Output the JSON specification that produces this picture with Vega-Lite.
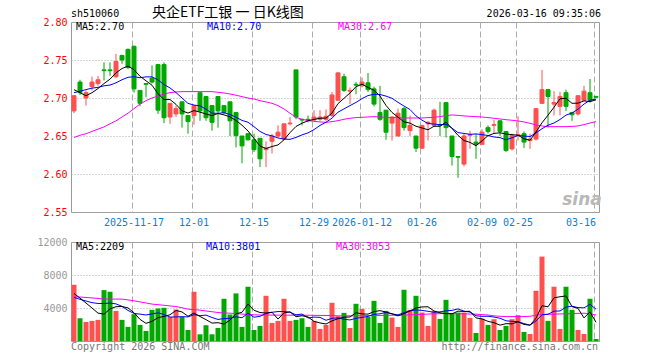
{
"$schema": "https://vega.github.io/schema/vega-lite/v6.json",
"background": "white",
"padding": {"left": 36, "top": 5, "right": 5, "bottom": 5},
"bounds": "flush",
"spacing": 30,
"config": {
 "font": "DejaVu Sans Mono",
 "view": {"stroke": "#999999", "strokeWidth": 1},
 "axis": {"labelFont": "DejaVu Sans Mono", "labelFontSize": 10, "ticks": false, "tickSize": 0, "domain": false, "gridColor": "#aaaaaa", "gridWidth": 1, "labelOverlap": false}
},
"datasets": {
"k": [
{"d":"2025-11-03","o":2.683,"h":2.704,"l":2.680,"c":2.703,"v":6820,"m5":2.711,"m10":2.707,"m30":2.648,"vm5":5760,"vm10":5280,"vm30":5360},
{"d":"2025-11-04","o":2.721,"h":2.724,"l":2.704,"c":2.707,"v":2760,"m5":2.707,"m10":2.709,"m30":2.651,"vm5":5200,"vm10":5050,"vm30":5330},
{"d":"2025-11-05","o":2.700,"h":2.710,"l":2.690,"c":2.707,"v":2310,"m5":2.703,"m10":2.711,"m30":2.653,"vm5":4600,"vm10":4850,"vm30":5280},
{"d":"2025-11-06","o":2.715,"h":2.728,"l":2.710,"c":2.721,"v":2440,"m5":2.707,"m10":2.713,"m30":2.656,"vm5":4000,"vm10":4650,"vm30":5220},
{"d":"2025-11-07","o":2.719,"h":2.729,"l":2.716,"c":2.724,"v":2560,"m5":2.7124,"m10":2.714,"m30":2.659,"vm5":3380,"vm10":4550,"vm30":5160},
{"d":"2025-11-10","o":2.737,"h":2.747,"l":2.723,"c":2.736,"v":6170,"m5":2.719,"m10":2.716,"m30":2.662,"vm5":3250,"vm10":4550,"vm30":5080},
{"d":"2025-11-11","o":2.737,"h":2.747,"l":2.729,"c":2.736,"v":5970,"m5":2.7248,"m10":2.717,"m30":2.666,"vm5":3890,"vm10":4600,"vm30":5080},
{"d":"2025-11-12","o":2.728,"h":2.758,"l":2.726,"c":2.748,"v":3650,"m5":2.733,"m10":2.720,"m30":2.670,"vm5":4160,"vm10":4500,"vm30":5080},
{"d":"2025-11-13","o":2.756,"h":2.757,"l":2.745,"c":2.750,"v":2560,"m5":2.7388,"m10":2.724,"m30":2.675,"vm5":4180,"vm10":4200,"vm30":5080},
{"d":"2025-11-14","o":2.764,"h":2.765,"l":2.738,"c":2.740,"v":1710,"m5":2.742,"m10":2.7272,"m30":2.680,"vm5":4010,"vm10":3700,"vm30":4980},
{"d":"2025-11-17","o":2.768,"h":2.769,"l":2.707,"c":2.712,"v":3250,"m5":2.7372,"m10":2.7281,"m30":2.686,"vm5":3430,"vm10":3340,"vm30":4870},
{"d":"2025-11-18","o":2.710,"h":2.710,"l":2.689,"c":2.693,"v":1950,"m5":2.7286,"m10":2.7267,"m30":2.692,"vm5":2620,"vm10":3260,"vm30":4740},
{"d":"2025-11-19","o":2.719,"h":2.719,"l":2.701,"c":2.718,"v":1220,"m5":2.7226,"m10":2.7278,"m30":2.6965,"vm5":2140,"vm10":3150,"vm30":4610},
{"d":"2025-11-20","o":2.726,"h":2.743,"l":2.719,"c":2.721,"v":3780,"m5":2.7168,"m10":2.7278,"m30":2.700,"vm5":2380,"vm10":3280,"vm30":4470},
{"d":"2025-11-21","o":2.744,"h":2.744,"l":2.679,"c":2.684,"v":3940,"m5":2.7056,"m10":2.7238,"m30":2.7027,"vm5":2830,"vm10":3420,"vm30":4400},
{"d":"2025-11-24","o":2.744,"h":2.747,"l":2.667,"c":2.674,"v":4020,"m5":2.698,"m10":2.7176,"m30":2.7053,"vm5":2980,"vm10":3210,"vm30":4330},
{"d":"2025-11-25","o":2.675,"h":2.693,"l":2.666,"c":2.693,"v":2920,"m5":2.698,"m10":2.7133,"m30":2.7071,"vm5":3180,"vm10":2900,"vm30":4250},
{"d":"2025-11-26","o":2.679,"h":2.690,"l":2.675,"c":2.686,"v":3820,"m5":2.6916,"m10":2.7071,"m30":2.7079,"vm5":3700,"vm10":2920,"vm30":4180},
{"d":"2025-11-27","o":2.695,"h":2.695,"l":2.661,"c":2.679,"v":2920,"m5":2.6832,"m10":2.700,"m30":2.7084,"vm5":3520,"vm10":2950,"vm30":4030},
{"d":"2025-11-28","o":2.677,"h":2.677,"l":2.653,"c":2.669,"v":1340,"m5":2.6802,"m10":2.6929,"m30":2.7084,"vm5":3000,"vm10":2920,"vm30":3860},
{"d":"2025-12-01","o":2.677,"h":2.690,"l":2.665,"c":2.690,"v":5970,"m5":2.6834,"m10":2.6907,"m30":2.7084,"vm5":3390,"vm10":3190,"vm30":3800},
{"d":"2025-12-02","o":2.707,"h":2.707,"l":2.670,"c":2.683,"v":810,"m5":2.6814,"m10":2.6897,"m30":2.7084,"vm5":2970,"vm10":3070,"vm30":3740},
{"d":"2025-12-03","o":2.702,"h":2.702,"l":2.670,"c":2.674,"v":1910,"m5":2.679,"m10":2.6853,"m30":2.7084,"vm5":2590,"vm10":3140,"vm30":3640},
{"d":"2025-12-04","o":2.690,"h":2.690,"l":2.657,"c":2.668,"v":810,"m5":2.6768,"m10":2.680,"m30":2.7084,"vm5":2170,"vm10":2850,"vm30":3550},
{"d":"2025-12-05","o":2.702,"h":2.702,"l":2.661,"c":2.683,"v":1580,"m5":2.6796,"m10":2.6799,"m30":2.7075,"vm5":2220,"vm10":2610,"vm30":3450},
{"d":"2025-12-08","o":2.690,"h":2.690,"l":2.679,"c":2.681,"v":5120,"m5":2.6778,"m10":2.6806,"m30":2.7066,"vm5":2050,"vm10":2720,"vm30":3400},
{"d":"2025-12-09","o":2.695,"h":2.695,"l":2.650,"c":2.670,"v":3210,"m5":2.6752,"m10":2.6783,"m30":2.7053,"vm5":2530,"vm10":2750,"vm30":3370},
{"d":"2025-12-10","o":2.681,"h":2.681,"l":2.635,"c":2.6505,"v":5770,"m5":2.6704,"m10":2.6747,"m30":2.7036,"vm5":3300,"vm10":2940,"vm30":3330},
{"d":"2025-12-11","o":2.650,"h":2.650,"l":2.614,"c":2.637,"v":1710,"m5":2.6642,"m10":2.6705,"m30":2.7018,"vm5":3480,"vm10":2820,"vm30":3260},
{"d":"2025-12-12","o":2.653,"h":2.653,"l":2.644,"c":2.645,"v":6580,"m5":2.6566,"m10":2.6681,"m30":2.700,"vm5":4480,"vm10":3350,"vm30":3220},
{"d":"2025-12-15","o":2.645,"h":2.653,"l":2.629,"c":2.632,"v":1340,"m5":2.6468,"m10":2.6623,"m30":2.6987,"vm5":3720,"vm10":2880,"vm30":3170},
{"d":"2025-12-16","o":2.647,"h":2.647,"l":2.609,"c":2.620,"v":1830,"m5":2.6368,"m10":2.656,"m30":2.6965,"vm5":3450,"vm10":2990,"vm30":3150},
{"d":"2025-12-17","o":2.632,"h":2.643,"l":2.609,"c":2.634,"v":5480,"m5":2.6336,"m10":2.652,"m30":2.6948,"vm5":3390,"vm10":3340,"vm30":3150},
{"d":"2025-12-18","o":2.643,"h":2.653,"l":2.627,"c":2.650,"v":2190,"m5":2.6362,"m10":2.6502,"m30":2.693,"vm5":3480,"vm10":3480,"vm30":3140},
{"d":"2025-12-19","o":2.650,"h":2.664,"l":2.648,"c":2.655,"v":2440,"m5":2.6382,"m10":2.6474,"m30":2.690,"vm5":2660,"vm10":3570,"vm30":3140},
{"d":"2025-12-22","o":2.646,"h":2.666,"l":2.645,"c":2.666,"v":5120,"m5":2.645,"m10":2.6459,"m30":2.6856,"vm5":3410,"vm10":3570,"vm30":3130},
{"d":"2025-12-23","o":2.666,"h":2.675,"l":2.664,"c":2.667,"v":2440,"m5":2.6544,"m10":2.6456,"m30":2.680,"vm5":3530,"vm10":3490,"vm30":3130},
{"d":"2025-12-24","o":2.737,"h":2.737,"l":2.672,"c":2.675,"v":2560,"m5":2.6626,"m10":2.6481,"m30":2.6746,"vm5":2950,"vm10":3170,"vm30":3130},
{"d":"2025-12-25","o":2.672,"h":2.672,"l":2.664,"c":2.671,"v":2760,"m5":2.6668,"m10":2.6515,"m30":2.672,"vm5":3060,"vm10":3270,"vm30":3130},
{"d":"2025-12-26","o":2.672,"h":2.677,"l":2.668,"c":2.671,"v":1710,"m5":2.670,"m10":2.6541,"m30":2.6702,"vm5":2920,"vm10":2790,"vm30":3120},
{"d":"2025-12-29","o":2.671,"h":2.684,"l":2.670,"c":2.675,"v":2440,"m5":2.6718,"m10":2.6584,"m30":2.6693,"vm5":2380,"vm10":2900,"vm30":3110},
{"d":"2025-12-30","o":2.672,"h":2.684,"l":2.670,"c":2.675,"v":1460,"m5":2.6734,"m10":2.6639,"m30":2.6685,"vm5":2190,"vm10":2860,"vm30":3100},
{"d":"2025-12-31","o":2.672,"h":2.685,"l":2.670,"c":2.676,"v":1950,"m5":2.6736,"m10":2.6681,"m30":2.668,"vm5":2060,"vm10":2510,"vm30":3090},
{"d":"2026-01-05","o":2.677,"h":2.708,"l":2.675,"c":2.704,"v":4630,"m5":2.6802,"m10":2.6735,"m30":2.6689,"vm5":2440,"vm10":2750,"vm30":3080},
{"d":"2026-01-06","o":2.697,"h":2.734,"l":2.697,"c":2.733,"v":3000,"m5":2.6926,"m10":2.6813,"m30":2.6702,"vm5":2700,"vm10":2810,"vm30":3050},
{"d":"2026-01-07","o":2.728,"h":2.732,"l":2.708,"c":2.710,"v":3410,"m5":2.6996,"m10":2.6857,"m30":2.672,"vm5":2890,"vm10":2640,"vm30":3050},
{"d":"2026-01-08","o":2.709,"h":2.714,"l":2.692,"c":2.710,"v":1580,"m5":2.7066,"m10":2.690,"m30":2.6733,"vm5":2910,"vm10":2550,"vm30":3050},
{"d":"2026-01-09","o":2.718,"h":2.721,"l":2.705,"c":2.717,"v":4510,"m5":2.7148,"m10":2.6942,"m30":2.6742,"vm5":3430,"vm10":2750,"vm30":3060},
{"d":"2026-01-12","o":2.716,"h":2.727,"l":2.714,"c":2.721,"v":3900,"m5":2.7182,"m10":2.6992,"m30":2.6746,"vm5":3280,"vm10":2860,"vm30":3070},
{"d":"2026-01-13","o":2.720,"h":2.733,"l":2.708,"c":2.711,"v":2920,"m5":2.7138,"m10":2.7032,"m30":2.675,"vm5":3260,"vm10":2980,"vm30":3080},
{"d":"2026-01-14","o":2.712,"h":2.715,"l":2.689,"c":2.692,"v":4870,"m5":2.7102,"m10":2.7049,"m30":2.6755,"vm5":3560,"vm10":3220,"vm30":3090},
{"d":"2026-01-15","o":2.681,"h":2.716,"l":2.670,"c":2.672,"v":2190,"m5":2.7026,"m10":2.7046,"m30":2.675,"vm5":3680,"vm10":3300,"vm30":3100},
{"d":"2026-01-16","o":2.684,"h":2.684,"l":2.645,"c":2.655,"v":3650,"m5":2.6902,"m10":2.7025,"m30":2.6746,"vm5":3510,"vm10":3470,"vm30":3110},
{"d":"2026-01-19","o":2.667,"h":2.676,"l":2.644,"c":2.675,"v":2840,"m5":2.681,"m10":2.6996,"m30":2.6742,"vm5":3290,"vm10":3290,"vm30":3120},
{"d":"2026-01-20","o":2.650,"h":2.686,"l":2.650,"c":2.680,"v":1710,"m5":2.6748,"m10":2.6943,"m30":2.6742,"vm5":3050,"vm10":3160,"vm30":3130},
{"d":"2026-01-21","o":2.686,"h":2.688,"l":2.657,"c":2.661,"v":6210,"m5":2.6686,"m10":2.6894,"m30":2.6737,"vm5":3320,"vm10":3440,"vm30":3140},
{"d":"2026-01-22","o":2.657,"h":2.677,"l":2.650,"c":2.664,"v":3780,"m5":2.667,"m10":2.6848,"m30":2.6737,"vm5":3640,"vm10":3660,"vm30":3170},
{"d":"2026-01-23","o":2.650,"h":2.650,"l":2.629,"c":2.634,"v":5480,"m5":2.6628,"m10":2.6765,"m30":2.6737,"vm5":4000,"vm10":3760,"vm30":3200},
{"d":"2026-01-26","o":2.634,"h":2.664,"l":2.633,"c":2.664,"v":3450,"m5":2.6606,"m10":2.6708,"m30":2.6737,"vm5":4130,"vm10":3710,"vm30":3230},
{"d":"2026-01-27","o":2.666,"h":2.670,"l":2.644,"c":2.668,"v":1830,"m5":2.6582,"m10":2.6665,"m30":2.6742,"vm5":4150,"vm10":3600,"vm30":3260},
{"d":"2026-01-28","o":2.664,"h":2.686,"l":2.662,"c":2.684,"v":3650,"m5":2.6628,"m10":2.6657,"m30":2.6746,"vm5":3640,"vm10":3480,"vm30":3290},
{"d":"2026-01-29","o":2.665,"h":2.695,"l":2.650,"c":2.664,"v":2680,"m5":2.6628,"m10":2.6649,"m30":2.6755,"vm5":3420,"vm10":3530,"vm30":3310},
{"d":"2026-01-30","o":2.694,"h":2.694,"l":2.648,"c":2.661,"v":4990,"m5":2.6682,"m10":2.6655,"m30":2.6768,"vm5":3320,"vm10":3660,"vm30":3330},
{"d":"2026-02-02","o":2.650,"h":2.650,"l":2.611,"c":2.623,"v":3330,"m5":2.660,"m10":2.6603,"m30":2.6777,"vm5":3300,"vm10":3710,"vm30":3320},
{"d":"2026-02-03","o":2.623,"h":2.623,"l":2.595,"c":2.622,"v":3450,"m5":2.6508,"m10":2.6545,"m30":2.6772,"vm5":3620,"vm10":3890,"vm30":3310},
{"d":"2026-02-04","o":2.613,"h":2.653,"l":2.610,"c":2.650,"v":3450,"m5":2.644,"m10":2.6534,"m30":2.6764,"vm5":3580,"vm10":3610,"vm30":3290},
{"d":"2026-02-05","o":2.651,"h":2.657,"l":2.633,"c":2.652,"v":2800,"m5":2.6416,"m10":2.6522,"m30":2.6759,"vm5":3600,"vm10":3510,"vm30":3270},
{"d":"2026-02-06","o":2.642,"h":2.653,"l":2.620,"c":2.639,"v":970,"m5":2.6372,"m10":2.6527,"m30":2.6755,"vm5":2800,"vm10":3060,"vm30":3250},
{"d":"2026-02-09","o":2.639,"h":2.659,"l":2.639,"c":2.655,"v":2720,"m5":2.6436,"m10":2.6518,"m30":2.675,"vm5":2680,"vm10":2990,"vm30":3200},
{"d":"2026-02-10","o":2.661,"h":2.664,"l":2.653,"c":2.656,"v":1950,"m5":2.6504,"m10":2.6506,"m30":2.6742,"vm5":2380,"vm10":3000,"vm30":3150},
{"d":"2026-02-11","o":2.664,"h":2.671,"l":2.653,"c":2.665,"v":2640,"m5":2.6534,"m10":2.6487,"m30":2.6733,"vm5":2220,"vm10":2900,"vm30":3050},
{"d":"2026-02-12","o":2.670,"h":2.671,"l":2.650,"c":2.656,"v":1340,"m5":2.6542,"m10":2.6479,"m30":2.6724,"vm5":1920,"vm10":2760,"vm30":3000},
{"d":"2026-02-13","o":2.656,"h":2.656,"l":2.629,"c":2.631,"v":1830,"m5":2.6526,"m10":2.6449,"m30":2.6715,"vm5":2100,"vm10":2450,"vm30":2960},
{"d":"2026-02-24","o":2.633,"h":2.653,"l":2.631,"c":2.651,"v":2640,"m5":2.6518,"m10":2.6477,"m30":2.6707,"vm5":2080,"vm10":2380,"vm30":2960},
{"d":"2026-02-25","o":2.651,"h":2.676,"l":2.644,"c":2.652,"v":3130,"m5":2.651,"m10":2.6507,"m30":2.6698,"vm5":2320,"vm10":2350,"vm30":2960},
{"d":"2026-02-26","o":2.653,"h":2.656,"l":2.634,"c":2.642,"v":1100,"m5":2.6464,"m10":2.6499,"m30":2.6685,"vm5":2010,"vm10":2110,"vm30":2960},
{"d":"2026-02-27","o":2.644,"h":2.653,"l":2.633,"c":2.646,"v":850,"m5":2.6444,"m10":2.6493,"m30":2.6667,"vm5":1910,"vm10":1920,"vm30":3000},
{"d":"2026-03-02","o":2.646,"h":2.686,"l":2.644,"c":2.686,"v":6090,"m5":2.6554,"m10":2.654,"m30":2.6645,"vm5":2760,"vm10":2430,"vm30":3130},
{"d":"2026-03-03","o":2.693,"h":2.737,"l":2.692,"c":2.711,"v":10230,"m5":2.6674,"m10":2.6596,"m30":2.6632,"vm5":4280,"vm10":3180,"vm30":3200},
{"d":"2026-03-04","o":2.711,"h":2.711,"l":2.661,"c":2.702,"v":2440,"m5":2.6774,"m10":2.6642,"m30":2.6623,"vm5":4140,"vm10":3230,"vm30":3250},
{"d":"2026-03-05","o":2.692,"h":2.709,"l":2.677,"c":2.694,"v":6580,"m5":2.6878,"m10":2.6671,"m30":2.6623,"vm5":5240,"vm10":3620,"vm30":3250},
{"d":"2026-03-06","o":2.689,"h":2.708,"l":2.677,"c":2.702,"v":1460,"m5":2.699,"m10":2.6717,"m30":2.6623,"vm5":5360,"vm10":3640,"vm30":3280},
{"d":"2026-03-09","o":2.707,"h":2.711,"l":2.683,"c":2.689,"v":6580,"m5":2.6996,"m10":2.6775,"m30":2.6623,"vm5":5460,"vm10":4110,"vm30":3300},
{"d":"2026-03-10","o":2.681,"h":2.681,"l":2.670,"c":2.678,"v":3780,"m5":2.693,"m10":2.6802,"m30":2.6627,"vm5":4170,"vm10":4220,"vm30":3330},
{"d":"2026-03-11","o":2.679,"h":2.703,"l":2.677,"c":2.703,"v":1340,"m5":2.6932,"m10":2.6853,"m30":2.6632,"vm5":3950,"vm10":4050,"vm30":3350},
{"d":"2026-03-12","o":2.697,"h":2.716,"l":2.697,"c":2.709,"v":850,"m5":2.6962,"m10":2.692,"m30":2.665,"vm5":2800,"vm10":4020,"vm30":3370},
{"d":"2026-03-13","o":2.707,"h":2.725,"l":2.694,"c":2.697,"v":5120,"m5":2.6952,"m10":2.6971,"m30":2.6671,"vm5":3530,"vm10":4450,"vm30":3300},
{"d":"2026-03-16","o":2.702,"h":2.703,"l":2.700,"c":2.701,"v":240,"m5":2.6976,"m10":2.6986,"m30":2.6689,"vm5":2270,"vm10":3860,"vm30":3150}
]
},
"vconcat": [
{
 "width": 528,
 "height": 190,
 "layer": [
  {
   "data": {"name": "k"},
   "mark": {"type": "rule", "strokeWidth": 1},
   "encoding": {
    "x": {"field": "d", "type": "ordinal", "scale": {"type": "band", "paddingInner": 0, "paddingOuter": 0},
     "axis": {"title": null, "values": ["2025-11-17","2025-12-01","2025-12-15","2025-12-29","2026-01-12","2026-01-26","2026-02-09","2026-02-25","2026-03-16"],
      "labelExpr": "datum.value == '2025-11-17' || datum.value == '2026-01-12' ? datum.value : slice(datum.value, 5)",
      "labelAngle": 0, "labelColor": "#0a80d8", "labelPadding": 5, "labelOverlap": false, "bandPosition": 0.2,
      "labelAlign": {"condition": {"test": "datum.value == '2026-03-16'", "value": "right"}, "value": "center"},
      "grid": true, "gridDash": [6, 3]}},
    "y": {"field": "l", "type": "quantitative", "scale": {"domain": [2.55, 2.80], "nice": false, "zero": false},
     "axis": {"title": null, "values": [2.55, 2.60, 2.65, 2.70, 2.75, 2.80], "tickCount": 12, "format": ".2f", "labelColor": "#ff0000", "labelPadding": 4, "labelOverlap": false, "grid": true, "gridDash": [1, 2]}},
    "y2": {"field": "h"},
    "color": {"condition": {"test": "datum.c >= datum.o", "value": "#ff5050"}, "value": "#00a800"}
   }
  },
  {
   "data": {"name": "k"},
   "mark": {"type": "bar", "width": 4, "strokeWidth": 1},
   "encoding": {
    "x": {"field": "d", "type": "ordinal"},
    "y": {"field": "o", "type": "quantitative"},
    "y2": {"field": "c"},
    "color": {"condition": {"test": "datum.c >= datum.o", "value": "#ff5050"}, "value": "#00a800"},
    "stroke": {"condition": {"test": "datum.c >= datum.o", "value": "#ff5050"}, "value": "#00a800"}
   }
  },
  {
   "data": {"name": "k"},
   "mark": {"type": "line", "color": "#ff00ff", "strokeWidth": 1},
   "encoding": {"x": {"field": "d", "type": "ordinal"}, "y": {"field": "m30", "type": "quantitative"}}
  },
  {
   "data": {"name": "k"},
   "mark": {"type": "line", "color": "#0000ff", "strokeWidth": 1},
   "encoding": {"x": {"field": "d", "type": "ordinal"}, "y": {"field": "m10", "type": "quantitative"}}
  },
  {
   "data": {"name": "k"},
   "mark": {"type": "line", "color": "#000000", "strokeWidth": 1},
   "encoding": {"x": {"field": "d", "type": "ordinal"}, "y": {"field": "m5", "type": "quantitative"}}
  },
  {
   "data": {"values": [{"t": "MA5:2.70"}]},
   "mark": {"type": "text", "align": "left", "baseline": "middle", "fontSize": 10, "color": "#000000", "dx": 2, "dy": 5},
   "encoding": {"x": {"datum": "2025-11-03", "type": "ordinal"}, "y": {"datum": 2.80, "type": "quantitative"}, "text": {"field": "t"}}
  },
  {
   "data": {"values": [{"t": "MA10:2.70"}]},
   "mark": {"type": "text", "align": "left", "baseline": "middle", "fontSize": 10, "color": "#0000ff", "dx": 1, "dy": 5},
   "encoding": {"x": {"datum": "2025-12-03", "type": "ordinal"}, "y": {"datum": 2.80, "type": "quantitative"}, "text": {"field": "t"}}
  },
  {
   "data": {"values": [{"t": "MA30:2.67"}]},
   "mark": {"type": "text", "align": "left", "baseline": "middle", "fontSize": 10, "color": "#ff00ff", "dx": 0, "dy": 5},
   "encoding": {"x": {"datum": "2026-01-06", "type": "ordinal"}, "y": {"datum": 2.80, "type": "quantitative"}, "text": {"field": "t"}}
  },
  {
   "data": {"values": [{"t": "sh510060"}]},
   "mark": {"type": "text", "align": "left", "baseline": "middle", "fontSize": 10, "color": "#000000", "dx": -3, "dy": -8},
   "encoding": {"x": {"datum": "2025-11-03", "type": "ordinal"}, "y": {"datum": 2.80, "type": "quantitative"}, "text": {"field": "t"}}
  },
  {
   "data": {"values": [{"t": "央企ETF工银 一 日K线图"}]},
   "mark": {"type": "text", "align": "left", "baseline": "middle", "fontSize": 14, "font": "Noto Sans CJK SC", "color": "#000000", "dx": 0, "dy": -9},
   "encoding": {"x": {"datum": "2025-11-20", "type": "ordinal"}, "y": {"datum": 2.80, "type": "quantitative"}, "text": {"field": "t"}}
  },
  {
   "data": {"values": [{"t": "2026-03-16 09:35:06"}]},
   "mark": {"type": "text", "align": "right", "baseline": "middle", "fontSize": 10, "color": "#000000", "dx": 5, "dy": -8},
   "encoding": {"x": {"datum": "2026-03-16", "type": "ordinal"}, "y": {"datum": 2.80, "type": "quantitative"}, "text": {"field": "t"}}
  },
  {
   "data": {"values": [{"t": "sina"}]},
   "mark": {"type": "text", "align": "center", "baseline": "middle", "fontSize": 17, "font": "DejaVu Sans", "fontStyle": "italic", "fontWeight": "bold", "color": "#b8b8b8", "dx": 4},
   "encoding": {"x": {"datum": "2026-03-11", "type": "ordinal"}, "y": {"datum": 2.566, "type": "quantitative"}, "text": {"field": "t"}}
  }
 ]
},
{
 "width": 528,
 "height": 99,
 "layer": [
  {
   "data": {"name": "k"},
   "mark": {"type": "bar", "width": 5},
   "encoding": {
    "x": {"field": "d", "type": "ordinal", "scale": {"type": "band", "paddingInner": 0, "paddingOuter": 0},
     "axis": {"title": null, "values": ["2025-11-17","2025-12-01","2025-12-15","2025-12-29","2026-01-12","2026-01-26","2026-02-09","2026-02-25","2026-03-16"], "labels": false, "bandPosition": 0.2, "grid": true, "gridDash": [6, 3]}},
    "y": {"field": "v", "type": "quantitative", "scale": {"domain": [0, 12000], "nice": false},
     "axis": {"title": null, "values": [4000, 8000, 12000], "tickCount": 6, "format": "d", "labelColor": "#999999", "labelPadding": 4, "labelOverlap": false, "grid": true, "gridDash": [1, 2]}},
    "color": {"condition": {"test": "datum.c >= datum.o", "value": "#ff5050"}, "value": "#00a800"}
   }
  },
  {
   "data": {"name": "k"},
   "mark": {"type": "line", "color": "#ff00ff", "strokeWidth": 1},
   "encoding": {"x": {"field": "d", "type": "ordinal"}, "y": {"field": "vm30", "type": "quantitative"}}
  },
  {
   "data": {"name": "k"},
   "mark": {"type": "line", "color": "#0000ff", "strokeWidth": 1},
   "encoding": {"x": {"field": "d", "type": "ordinal"}, "y": {"field": "vm10", "type": "quantitative"}}
  },
  {
   "data": {"name": "k"},
   "mark": {"type": "line", "color": "#000000", "strokeWidth": 1},
   "encoding": {"x": {"field": "d", "type": "ordinal"}, "y": {"field": "vm5", "type": "quantitative"}}
  },
  {
   "data": {"values": [{"t": "MA5:2209"}]},
   "mark": {"type": "text", "align": "left", "baseline": "middle", "fontSize": 10, "color": "#000000", "dx": 2, "dy": 5},
   "encoding": {"x": {"datum": "2025-11-03", "type": "ordinal"}, "y": {"datum": 12000, "type": "quantitative"}, "text": {"field": "t"}}
  },
  {
   "data": {"values": [{"t": "MA10:3801"}]},
   "mark": {"type": "text", "align": "left", "baseline": "middle", "fontSize": 10, "color": "#0000ff", "dx": 0, "dy": 5},
   "encoding": {"x": {"datum": "2025-12-03", "type": "ordinal"}, "y": {"datum": 12000, "type": "quantitative"}, "text": {"field": "t"}}
  },
  {
   "data": {"values": [{"t": "MA30:3053"}]},
   "mark": {"type": "text", "align": "left", "baseline": "middle", "fontSize": 10, "color": "#ff00ff", "dx": -2, "dy": 5},
   "encoding": {"x": {"datum": "2026-01-06", "type": "ordinal"}, "y": {"datum": 12000, "type": "quantitative"}, "text": {"field": "t"}}
  },
  {
   "data": {"values": [{"t": "Copyright 2026 SINA.COM"}]},
   "mark": {"type": "text", "align": "left", "baseline": "middle", "fontSize": 10, "color": "#777777", "dx": -3, "dy": 6},
   "encoding": {"x": {"datum": "2025-11-03", "type": "ordinal"}, "y": {"datum": 0, "type": "quantitative"}, "text": {"field": "t"}}
  },
  {
   "data": {"values": [{"t": "http://finance.sina.com.cn"}]},
   "mark": {"type": "text", "align": "right", "baseline": "middle", "fontSize": 10, "color": "#777777", "dx": 2, "dy": 6},
   "encoding": {"x": {"datum": "2026-03-16", "type": "ordinal"}, "y": {"datum": 0, "type": "quantitative"}, "text": {"field": "t"}}
  }
 ]
}
]
}
